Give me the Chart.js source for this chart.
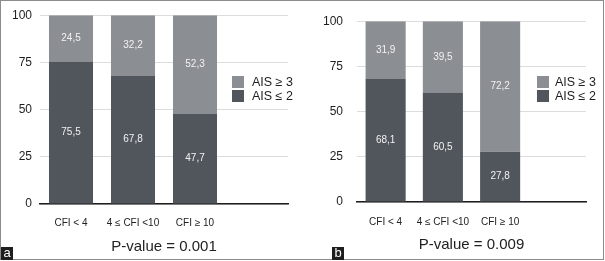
<!DOCTYPE html>
<html>
<head>
<meta charset="utf-8">
<script src="https://cdn.jsdelivr.net/npm/chart.js@4"></script>
<style>
  html, body { margin: 0; padding: 0; background: #fff; }
  #fig { position: relative; width: 605px; height: 261px; overflow: hidden; font-family: "Liberation Sans", Arial, sans-serif; }
  .frame { position: absolute; left: 0; top: 0; width: 604px; height: 260px; box-sizing: border-box; border: 1px solid #8c8c8c; }
  canvas { position: absolute; top: 0; }
  #chartA { left: 0; }
  #chartB { left: 302px; }
  .tag { position: absolute; top: 247px; width: 12px; height: 13px; background: #1e1e1e; color: #fff;
         font-size: 13px; line-height: 12px; text-align: center; }
</style>
</head>
<body>
<div id="fig">
  <canvas id="chartA" width="302" height="259"></canvas>
  <canvas id="chartB" width="301" height="259"></canvas>
  <div class="frame"></div>
  <div class="tag" style="left:1px">a</div>
  <div class="tag" style="left:332px">b</div>
</div>
<script>
// data
const categories = ['CFI < 4', '4 ≤ CFI <10', 'CFI ≥ 10', ''];
const yTicks = [0, 25, 50, 75, 100];
const seriesNames = ['AIS ≤ 2', 'AIS ≥ 3'];
const aisLowA = [75.5, 67.8, 47.7];
const aisHighA = [24.5, 32.2, 52.3];
const aisLowB = [68.1, 60.5, 27.8];
const aisHighB = [31.9, 39.5, 72.2];
const pTexts = ['P-value = 0.001', 'P-value = 0.009'];

const FONT = '"Liberation Sans", Arial, sans-serif';
const darkGrey = '#51555c', lightGrey = '#8b8e93';

// value printed in the middle of each segment
const segLabels = {
  id: 'segLabels',
  afterDatasetsDraw(chart) {
    const ctx = chart.ctx;
    ctx.save();
    ctx.font = '10px ' + FONT;
    ctx.fillStyle = '#f2f2f2';
    ctx.textAlign = 'center';
    ctx.textBaseline = 'middle';
    chart.data.datasets.forEach((ds, i) => {
      chart.getDatasetMeta(i).data.forEach((bar, j) => {
        const v = ds.data[j];
        if (v == null) return;
        const { x, y, base } = bar.getProps(['x', 'y', 'base'], true);
        ctx.fillText(v.toFixed(1).replace('.', ','), x, (y + base) / 2);
      });
    });
    ctx.restore();
  }
};

// legend sitting in the empty 4th slot
const sideLegend = {
  id: 'sideLegend',
  afterDraw(chart, args, opts) {
    const ctx = chart.ctx;
    ctx.save();
    ctx.font = '12.5px ' + FONT;
    ctx.textBaseline = 'middle';
    ctx.textAlign = 'left';
    const items = chart.data.datasets.slice().reverse();
    items.forEach((ds, k) => {
      const top = opts.y + k * 14;
      ctx.fillStyle = ds.backgroundColor;
      ctx.fillRect(opts.x, top, 12, 12);
      ctx.fillStyle = '#1e1e1e';
      ctx.fillText(ds.label, opts.x + opts.gap, top + 6.5);
    });
    ctx.restore();
  }
};

function build(id, low, high, pText, g) {
  return new Chart(document.getElementById(id), {
    type: 'bar',
    data: {
      labels: categories,
      datasets: [
        { label: seriesNames[0], data: low, backgroundColor: darkGrey },
        { label: seriesNames[1], data: high, backgroundColor: lightGrey }
      ]
    },
    options: {
      responsive: false, animation: false, devicePixelRatio: 1,
      layout: { padding: { left: 0, right: g.right, top: g.top, bottom: 0 } },
      datasets: { bar: { barPercentage: g.bp, categoryPercentage: 1 } },
      plugins: { legend: { display: false }, tooltip: { enabled: false },
                 sideLegend: { x: g.lx, y: 76, gap: g.lgap } },
      scales: {
        x: {
          stacked: true,
          grid: { display: false },
          border: { display: true, color: '#1e1e1e', width: 1.5 },
          ticks: { font: { family: FONT, size: 10 }, color: '#222', padding: g.xpad, maxRotation: 0, autoSkip: false },
          title: { display: true, text: pText, color: '#222', font: { family: FONT, size: 15 }, padding: { top: 0, bottom: g.tpad } },
          afterFit: s => { s.height = g.xh; }
        },
        y: {
          stacked: true, min: 0, max: 100,
          afterBuildTicks: s => { s.ticks = yTicks.map(v => ({ value: v })); },
          grid: { color: '#dcdcdc', drawTicks: false },
          border: { display: false },
          ticks: { font: { family: FONT, size: 12 }, color: '#1e1e1e', padding: g.ypad },
          afterFit: s => { s.width = g.yw; }
        }
      }
    },
    plugins: [segLabels, sideLegend]
  });
}

build('chartA', aisLowA, aisHighA, pTexts[0],
  { right: 14, top: 12, yw: 40, xh: 55, bp: 0.71, xpad: 5.5, tpad: 3.5, ypad: 8, lx: 232, lgap: 20 });
build('chartB', aisLowB, aisHighB, pTexts[1],
  { right: 17, top: 13, yw: 55, xh: 57, bp: 0.70, xpad: 6, tpad: 5, ypad: 14, lx: 235, lgap: 18 });
</script>
</body>
</html>
